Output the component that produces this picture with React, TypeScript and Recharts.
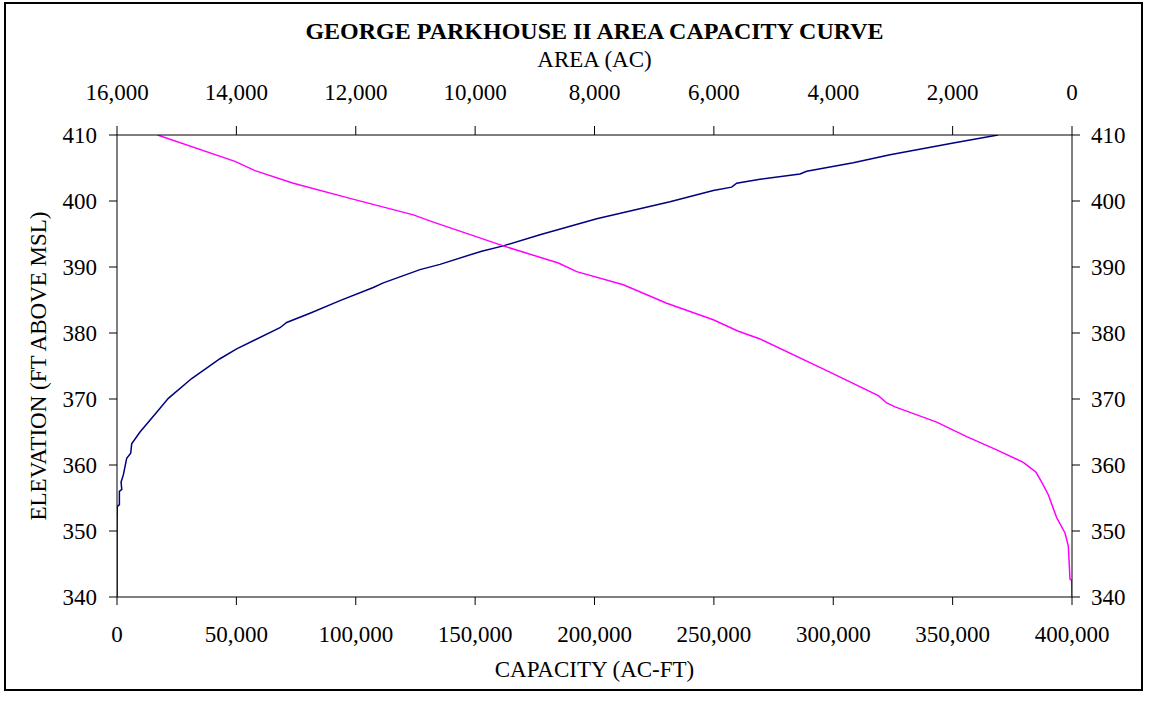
import React from 'react';
import { LineChart, Line, XAxis, YAxis, Label } from 'recharts';

// capacity (ac-ft) vs elevation
const capacityCurve = [
  { cap: 0, elev: 340 }, { cap: 0, elev: 351 }, { cap: 100, elev: 353.7 },
  { cap: 1000, elev: 354 }, { cap: 1000, elev: 356 }, { cap: 2000, elev: 356.3 },
  { cap: 1700, elev: 357.4 }, { cap: 2650, elev: 358.5 }, { cap: 4060, elev: 361 },
  { cap: 5740, elev: 361.8 }, { cap: 6150, elev: 363.2 }, { cap: 9630, elev: 365 },
  { cap: 16630, elev: 368 }, { cap: 21500, elev: 370.1 }, { cap: 31290, elev: 373.1 },
  { cap: 43140, elev: 376.1 }, { cap: 50120, elev: 377.6 }, { cap: 68270, elev: 380.8 },
  { cap: 71060, elev: 381.6 }, { cap: 80840, elev: 383 }, { cap: 93400, elev: 384.9 },
  { cap: 107350, elev: 386.9 }, { cap: 111540, elev: 387.6 }, { cap: 126910, elev: 389.6 },
  { cap: 135290, elev: 390.4 }, { cap: 152750, elev: 392.4 }, { cap: 161800, elev: 393.2 },
  { cap: 177170, elev: 394.9 }, { cap: 200920, elev: 397.3 }, { cap: 231620, elev: 399.9 },
  { cap: 249760, elev: 401.6 }, { cap: 257450, elev: 402.1 }, { cap: 259560, elev: 402.7 },
  { cap: 269320, elev: 403.3 }, { cap: 286070, elev: 404.1 }, { cap: 288870, elev: 404.5 },
  { cap: 308400, elev: 405.8 }, { cap: 323770, elev: 407 }, { cap: 350280, elev: 408.8 },
  { cap: 369000, elev: 410 },
];

// surface area (ac) vs elevation
const areaCurve = [
  { area: 0, elev: 340 }, { area: 5, elev: 342.5 }, { area: 34, elev: 342.7 },
  { area: 50, elev: 345.7 }, { area: 62, elev: 347.7 }, { area: 117, elev: 349.7 },
  { area: 256, elev: 352 }, { area: 397, elev: 355.5 }, { area: 508, elev: 357.4 },
  { area: 603, elev: 358.9 }, { area: 675, elev: 359.4 }, { area: 816, elev: 360.4 },
  { area: 1262, elev: 362.3 }, { area: 1764, elev: 364.3 }, { area: 2267, elev: 366.5 },
  { area: 2965, elev: 368.8 }, { area: 3105, elev: 369.4 }, { area: 3245, elev: 370.5 },
  { area: 4110, elev: 374.3 }, { area: 5227, elev: 379.1 }, { area: 5600, elev: 380.3 },
  { area: 6010, elev: 382 }, { area: 6790, elev: 384.5 }, { area: 7517, elev: 387.3 },
  { area: 8298, elev: 389.3 }, { area: 8606, elev: 390.6 }, { area: 9528, elev: 393.2 },
  { area: 10700, elev: 396.8 }, { area: 11035, elev: 397.9 }, { area: 12096, elev: 400.4 },
  { area: 13046, elev: 402.7 }, { area: 13688, elev: 404.6 }, { area: 14023, elev: 406 },
  { area: 15320, elev: 410 },
];

const capTicks = [0, 50000, 100000, 150000, 200000, 250000, 300000, 350000, 400000];
const areaTicks = [0, 2000, 4000, 6000, 8000, 10000, 12000, 14000, 16000];
const elevTicks = [340, 350, 360, 370, 380, 390, 400, 410];

const FONT = '"Liberation Serif", "Times New Roman", serif';
const fmt = (v: number) => v.toLocaleString('en-US');
const tickStyle = { fill: '#000', fontSize: 23, fontFamily: FONT };
const labelStyle = { fill: '#000', fontSize: 23, fontFamily: FONT };

export default function App() {
  return (
    <div style={{ position: 'absolute', left: 0, top: 0, width: 1149, height: 702, background: '#fff' }}>
      <div
        style={{
          position: 'absolute', left: 4, top: 2, width: 1139, height: 689,
          border: '2px solid #000', boxSizing: 'border-box',
        }}
      />
      <div style={{ position: 'absolute', left: 0, top: 0 }}>
        <LineChart
          width={1149}
          height={702}
          margin={{ top: 75, right: 0, bottom: 15, left: 0 }}
        >
          <XAxis
            xAxisId="cap"
            dataKey="cap"
            type="number"
            orientation="bottom"
            domain={[0, 400000]}
            ticks={capTicks}
            tickFormatter={fmt}
            allowDataOverflow
            height={90}
            tickSize={8}
            tickMargin={21}
            stroke="#000"
            tick={tickStyle}
          >
            <Label value="CAPACITY (AC-FT)" position="insideBottom" offset={10} style={labelStyle} />
          </XAxis>
          <XAxis
            xAxisId="area"
            dataKey="area"
            type="number"
            orientation="top"
            reversed
            domain={[0, 16000]}
            ticks={areaTicks}
            tickFormatter={fmt}
            allowDataOverflow
            height={60}
            tickSize={9}
            tickMargin={26}
            stroke="#000"
            tick={tickStyle}
          >
            <Label value="AREA (AC)" position="top" offset={8} style={labelStyle} />
            <Label value="GEORGE PARKHOUSE II AREA CAPACITY CURVE" position="top" offset={36}
              style={{ ...labelStyle, fontSize: 24, fontWeight: 'bold' }} />
          </XAxis>
          <YAxis
            yAxisId="elev"
            type="number"
            orientation="left"
            domain={[340, 410]}
            ticks={elevTicks}
            allowDataOverflow
            width={117}
            tickSize={8}
            tickMargin={12}
            stroke="#000"
            tick={tickStyle}
          >
            <Label value="ELEVATION (FT ABOVE MSL)" angle={-90} position="insideLeft" offset={38}
              style={{ ...labelStyle, textAnchor: 'middle' }} />
          </YAxis>
          <YAxis
            yAxisId="elevR"
            type="number"
            orientation="right"
            domain={[340, 410]}
            ticks={elevTicks}
            allowDataOverflow
            width={77}
            tickSize={8}
            tickMargin={11}
            stroke="#000"
            tick={tickStyle}
          />
          <Line
            data={capacityCurve}
            xAxisId="cap"
            yAxisId="elev"
            dataKey="elev"
            type="linear"
            stroke="#000080"
            strokeWidth={1.5}
            dot={false}
            activeDot={false}
            isAnimationActive={false}
          />
          <Line
            data={areaCurve}
            xAxisId="area"
            yAxisId="elev"
            dataKey="elev"
            type="linear"
            stroke="#FF00FF"
            strokeWidth={1.5}
            dot={false}
            activeDot={false}
            isAnimationActive={false}
          />
        </LineChart>
      </div>
    </div>
  );
}
